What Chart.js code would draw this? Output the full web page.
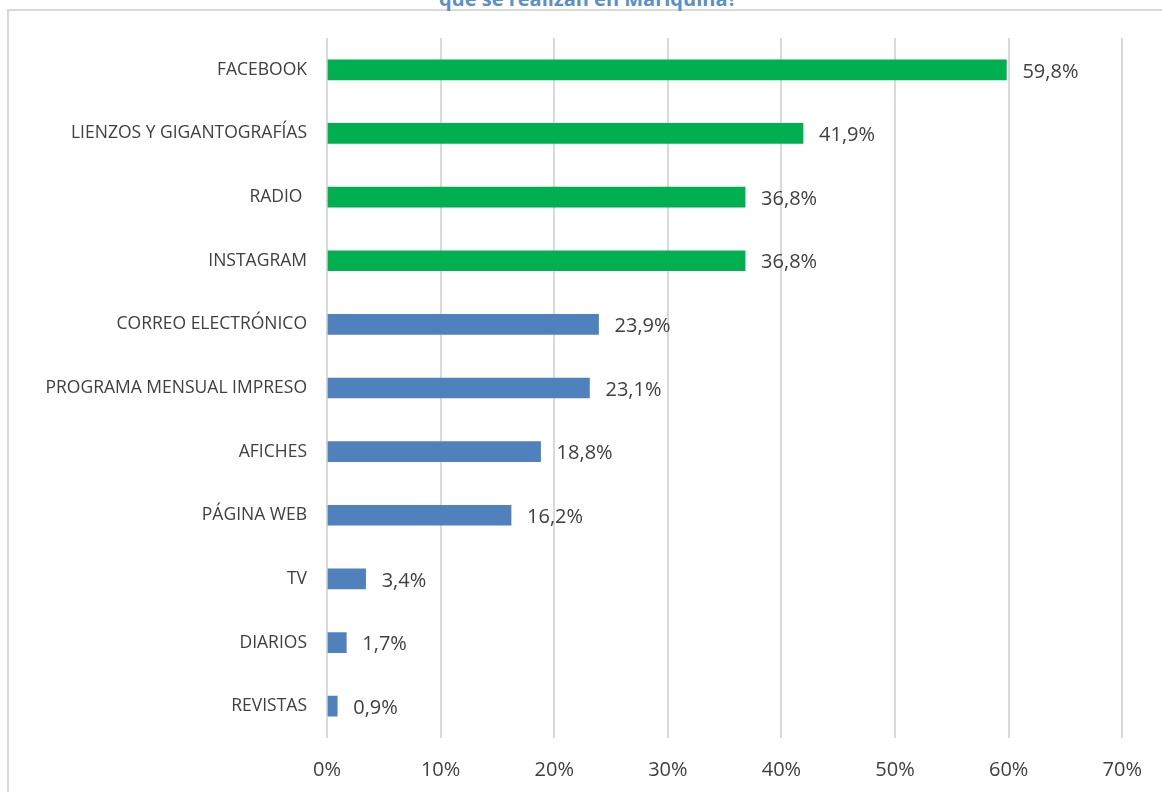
<!DOCTYPE html>
<html>
<head>
<meta charset="utf-8">
<script src="https://cdn.jsdelivr.net/npm/chart.js@4/dist/chart.umd.min.js"></script>
<style>
  html, body { margin: 0; padding: 0; background: #fff; overflow: hidden; }
  #wrap { position: relative; width: 1162px; height: 792px; }
  #frame { position: absolute; left: 7px; top: 9px; right: -4px; bottom: -4px;
           border-top: 2px solid #D9D9D9; border-left: 2px solid #D9D9D9; }
  #title { position: absolute; top: -11px; left: 0; width: 1176px; text-align: center;
           font: bold 20px "Open Sans", sans-serif; line-height: 20px; color: #5B8FCB; }
  canvas { position: absolute; left: 0; top: 0; }
</style>
</head>
<body>
<div id="wrap">
  <div id="frame"></div>
  <div id="title">que se realizan en Mariquina?</div>
  <canvas id="myChart" width="1162" height="792"></canvas>
</div>
<script>
const categories = ['FACEBOOK', 'LIENZOS Y GIGANTOGRAFÍAS', 'RADIO ', 'INSTAGRAM', 'CORREO ELECTRÓNICO',
    'PROGRAMA MENSUAL IMPRESO', 'AFICHES', 'PÁGINA WEB', 'TV', 'DIARIOS', 'REVISTAS'];
const values = [59.8, 41.9, 36.8, 36.8, 23.9, 23.1, 18.8, 16.2, 3.4, 1.7, 0.9]; // percent
const barColors = ['#00B050', '#00B050', '#00B050', '#00B050', '#4F81BD', '#4F81BD',
    '#4F81BD', '#4F81BD', '#4F81BD', '#4F81BD', '#4F81BD'];

const fontFamily = '"Open Sans", sans-serif';
const textColor = '#404040';

// draws the value next to each bar
const valueLabels = {
    id: 'valueLabels',
    afterDatasetsDraw(chart) {
        const c = chart.ctx;
        const meta = chart.getDatasetMeta(0);
        c.save();
        c.font = '20px ' + fontFamily;
        c.fillStyle = textColor;
        c.textAlign = 'left';
        c.textBaseline = 'middle';
        meta.data.forEach((bar, i) => {
            const txt = values[i].toFixed(1).replace('.', ',') + '%';
            c.fillText(txt, bar.x + 16, bar.y + 2);
        });
        c.restore();
    }
};

const ctx = document.getElementById('myChart').getContext('2d');
const myChart = new Chart(ctx, {
    type: 'bar',
    data: {
        labels: categories,
        datasets: [{
            data: values,
            backgroundColor: barColors,
            barThickness: 20
        }]
    },
    options: {
        indexAxis: 'y',
        responsive: false,
        animation: false,
        layout: { padding: { left: 8, right: 39, top: 38, bottom: 0 } },
        plugins: {
            legend: { display: false },
            tooltip: { enabled: false }
        },
        scales: {
            x: {
                min: 0,
                max: 70,
                ticks: {
                    stepSize: 10,
                    padding: 20,
                    color: textColor,
                    font: { family: fontFamily, size: 20 },
                    callback: v => v + '%'
                },
                grid: { color: '#D9D9D9', lineWidth: 2, drawTicks: false },
                border: { display: false },
                afterFit: s => { s.height = 54; }
            },
            y: {
                ticks: {
                    padding: 12,
                    color: textColor,
                    font: { family: fontFamily, size: 17.5 }
                },
                grid: { display: false },
                border: { display: false },
                afterFit: s => { s.width = 319; }
            }
        }
    },
    plugins: [valueLabels]
});
</script>
</body>
</html>
